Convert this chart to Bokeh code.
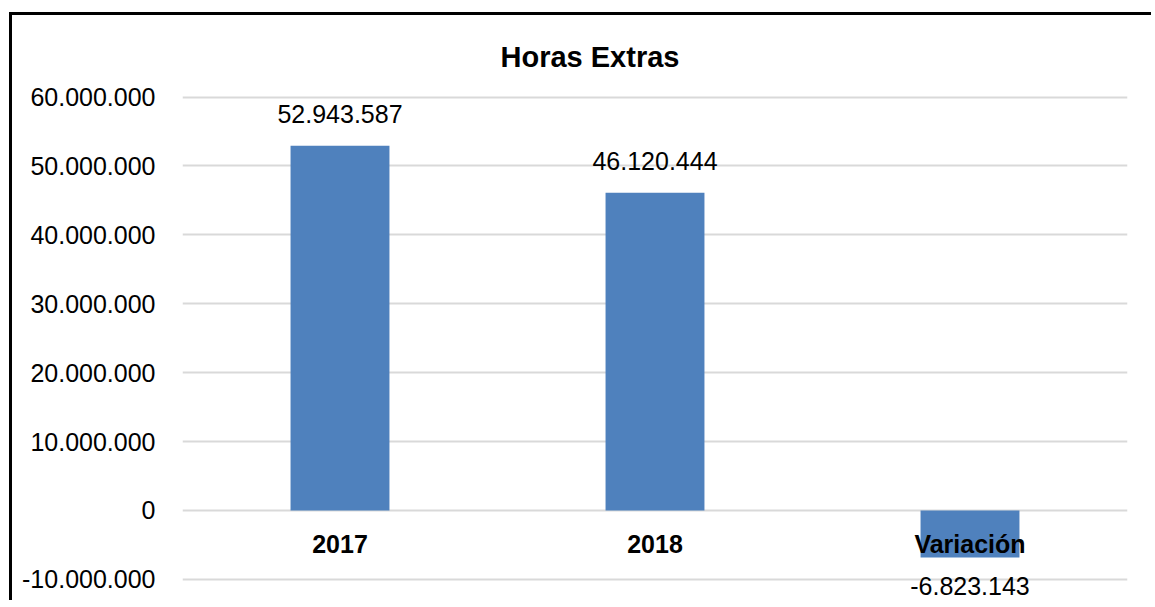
from bokeh.plotting import figure
from bokeh.models import (ColumnDataSource, FactorRange, Range1d, FixedTicker,
                          CustomJSTickFormatter, Title)
from bokeh.core.properties import value
from bokeh.embed import file_html
from bokeh.resources import INLINE

# ---- data ----
categories = ["2017", "2018", "Variación"]
values = [52943587, 46120444, -6823143]
tick_values = [-10000000, 0, 10000000, 20000000, 30000000, 40000000, 50000000, 60000000]
title_text = "Horas Extras"


def fmt(v):
    return f"{v:,}".replace(",", ".")


labels = [fmt(v) for v in values]

FONT = "Liberation Sans"
BAR = "#4F81BD"
GRID = "#d9d9d9"

src = ColumnDataSource(dict(cat=categories, val=values, label=labels,
                            zero=[0] * len(categories)))
pos = [i for i, v in enumerate(values) if v >= 0]
neg = [i for i, v in enumerate(values) if v < 0]
pos_src = ColumnDataSource(dict(cat=[categories[i] for i in pos],
                                val=[values[i] for i in pos],
                                label=[labels[i] for i in pos]))
neg_src = ColumnDataSource(dict(cat=[categories[i] for i in neg],
                                val=[values[i] for i in neg],
                                label=[labels[i] for i in neg]))

p = figure(width=1142, height=588,
           x_range=FactorRange(*categories, range_padding=0),
           y_range=Range1d(-13.51e6, 60.22e6),
           output_backend="svg", toolbar_location=None,
           min_border_left=170, min_border_right=27,
           min_border_top=80, min_border_bottom=0)

p.styles = {"position": "absolute", "left": "9px", "top": "12px",
            "border-left": "3px solid black", "border-top": "3px solid black"}

p.title = Title(text=title_text, align="left", offset=318,
                text_font=FONT, text_font_size="29px", text_font_style="bold",
                text_color="black", standoff=45)

p.vbar(x="cat", top="val", bottom=0, width=0.314, source=src,
       fill_color=BAR, line_color=None)

p.text(x="cat", y="zero", text="cat", source=src,
       text_font=value(FONT), text_font_size="25px", text_font_style="bold",
       text_align="center", text_baseline="middle", y_offset=34,
       text_color="black")

p.text(x="cat", y="val", text="label", source=pos_src,
       text_font=value(FONT), text_font_size="25px",
       text_align="center", text_baseline="middle", y_offset=-32,
       text_color="black")
p.text(x="cat", y="val", text="label", source=neg_src,
       text_font=value(FONT), text_font_size="25px",
       text_align="center", text_baseline="middle", y_offset=29,
       text_color="black")

p.xaxis.visible = False
p.xgrid.grid_line_color = None

yax = p.yaxis[0]
yax.ticker = FixedTicker(ticks=tick_values)
yax.formatter = CustomJSTickFormatter(code="""
    return Math.round(tick).toString().replace(/\\B(?=(\\d{3})+(?!\\d))/g, ".");
""")
yax.axis_line_color = None
yax.major_tick_line_color = None
yax.minor_tick_line_color = None
yax.major_tick_out = 0
yax.major_tick_in = 0
yax.major_label_standoff = 27
yax.major_label_text_font = FONT
yax.major_label_text_font_size = "25px"
yax.major_label_text_color = "black"

p.ygrid.ticker = FixedTicker(ticks=tick_values)
p.ygrid.grid_line_color = GRID
p.ygrid.grid_line_width = 2

p.outline_line_color = None
p.background_fill_color = "white"
p.border_fill_color = "white"

open("out.html", "w").write(file_html(p, INLINE))
